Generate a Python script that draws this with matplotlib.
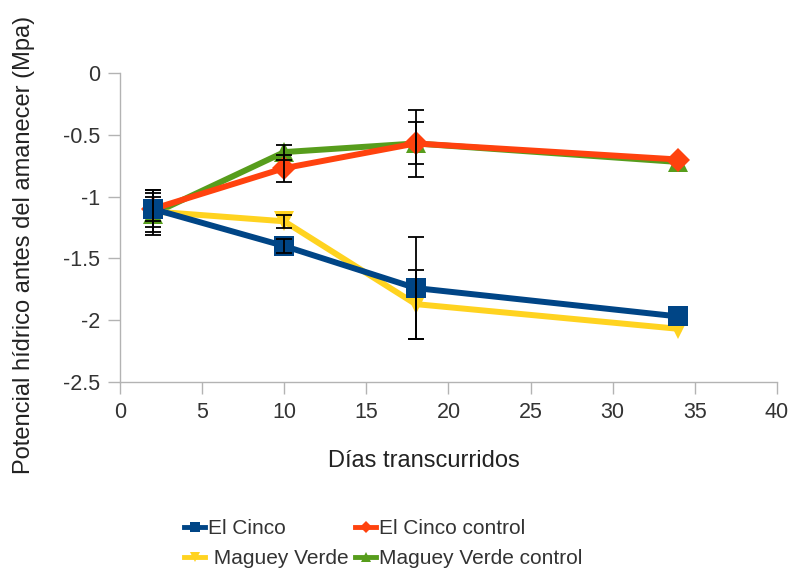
import numpy as np
import matplotlib
matplotlib.use("Agg")
import matplotlib.pyplot as plt
from matplotlib.lines import Line2D

plt.rcParams['font.family'] = ['Liberation Sans', 'DejaVu Sans']

days = [2, 10, 18, 34]

el_cinco = [-1.10, -1.40, -1.74, -1.97]
el_cinco_err = [0.15, 0.06, 0.41, 0.0]

el_cinco_control = [-1.10, -0.77, -0.57, -0.70]
el_cinco_control_err = [0.10, 0.11, 0.27, 0.0]

maguey_verde = [-1.12, -1.20, -1.87, -2.07]
maguey_verde_err = [0.17, 0.055, 0.28, 0.0]

maguey_verde_control = [-1.14, -0.64, -0.57, -0.72]
maguey_verde_control_err = [0.17, 0.06, 0.17, 0.0]

labels = ["El Cinco", "El Cinco control", " Maguey Verde", "Maguey Verde control"]
x_ticks = [0, 5, 10, 15, 20, 25, 30, 35, 40]
y_ticks = [0, -0.5, -1, -1.5, -2, -2.5]
y_tick_labels = ["0", "-0.5", "-1", "-1.5", "-2", "-2.5"]

series = [
    (maguey_verde_control, maguey_verde_control_err, "#579d1c", "^", 15, 2),
    (maguey_verde, maguey_verde_err, "#ffd320", "v", 15, 3),
    (el_cinco_control, el_cinco_control_err, "#ff420e", "D", 12, 4),
    (el_cinco, el_cinco_err, "#004586", "s", 14, 5),
]

fig = plt.figure(figsize=(7.88, 5.69), dpi=100)
ax = fig.add_axes([0.1523, 0.3287, 0.8337, 0.5430])

x = np.array(days, dtype=float)
for vals, errs, color, marker, ms, z in series:
    ax.plot(x, vals, color=color, lw=4.3, marker=marker, markersize=ms,
            markeredgewidth=0, zorder=z, solid_joinstyle='round')
for vals, errs, color, marker, ms, z in series:
    v = np.array(vals)
    e = np.array(errs)
    m = e > 0
    ax.errorbar(x[m], v[m], yerr=e[m], fmt='none', ecolor='black',
                elinewidth=1.3, capsize=5.5, capthick=1.3, zorder=10)

ax.set_xlim(0, 40)
ax.set_ylim(-2.5, 0)
ax.set_xticks(x_ticks)
ax.set_yticks(y_ticks)
ax.set_yticklabels(y_tick_labels)

for s in ['top', 'right']:
    ax.spines[s].set_visible(False)
for s in ['left', 'bottom']:
    ax.spines[s].set_color('#b3b3b3')
    ax.spines[s].set_linewidth(1.0)
ax.tick_params(axis='both', colors='#b3b3b3', labelcolor='#333333',
               labelsize=15.5, length=8.5, width=1.0, pad=6)

ax.set_xlabel("Días transcurridos", fontsize=17, color='#222222')
ax.xaxis.set_label_coords(0.463, -0.22)
ax.set_ylabel("Potencial hídrico antes del amanecer (Mpa)", fontsize=17,
              color='#222222')
ax.yaxis.set_label_coords(-0.130, 0.443)

handles = {
    "El Cinco": Line2D([], [], color="#004586", lw=3.5, marker="s", markersize=7, markeredgewidth=0),
    "El Cinco control": Line2D([], [], color="#ff420e", lw=3.5, marker="D", markersize=6, markeredgewidth=0),
    " Maguey Verde": Line2D([], [], color="#ffd320", lw=3.5, marker="v", markersize=7, markeredgewidth=0),
    "Maguey Verde control": Line2D([], [], color="#579d1c", lw=3.5, marker="^", markersize=7, markeredgewidth=0),
}
# two columns filled row by row
order = [labels[0], labels[2], labels[1], labels[3]]
leg = fig.legend([handles[k] for k in order], order, ncol=2, loc='upper left',
                 bbox_to_anchor=(0.234, 0.087), bbox_transform=fig.transFigure,
                 frameon=False, fontsize=15, handlelength=1.0, handletextpad=0.15,
                 columnspacing=0.3, labelspacing=0.5, borderpad=0, borderaxespad=0)
for t in leg.get_texts():
    t.set_color('#333333')

fig.savefig("out.png", dpi=100, facecolor='white')
